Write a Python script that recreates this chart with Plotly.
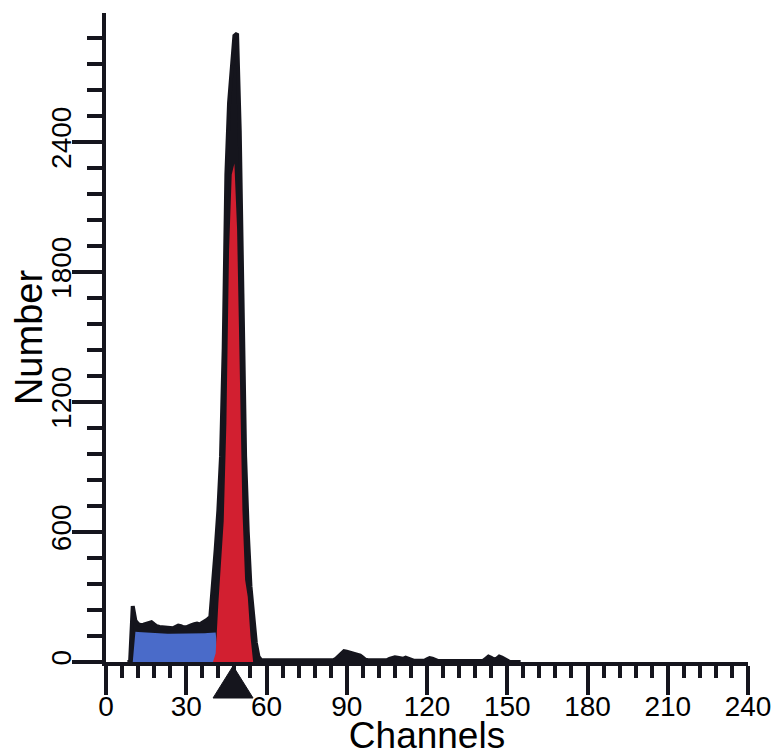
import plotly.graph_objects as go

# ---- data ----
channels = list(range(8, 156))

# total histogram (black outline / envelope)
debris_counts = [0, 0, 258, 190, 175, 170, 172, 176, 182, 184, 174, 165, 162, 160, 157, 155,
                 157, 156, 163, 168, 165, 160, 160, 163, 170, 175, 177, 173, 180, 190, 197,
                 208]                                    # ch 8..39
peak_counts = [340, 520, 700, 950, 1450, 2250, 2580, 2760, 2890, 2900, 2450, 1700, 950,
               600, 350, 220, 90, 25]                    # ch 40..57
tail_counts = [8] * 28 + [15, 25, 40, 50, 48, 45, 40, 38, 35, 30, 20, 10] + [8] * 8 + \
              [15, 20, 22, 20, 18, 15, 20, 15, 10] + [6] * 5 + [12, 18, 15, 8] + [5] * 18 + \
              [15, 25, 20, 12, 15, 25, 20, 12, 5] + [0] * 5   # ch 58..155
total_counts = debris_counts + peak_counts + tail_counts

# debris model component (blue)
debris_channels = list(range(10, 43))
debris_model = [0, 140, 138, 137, 136, 135, 134, 133, 132, 131, 131, 130, 130, 130, 130, 130,
                130, 130, 130, 131, 131, 131, 131, 132, 132, 132, 133, 133, 134, 135, 135,
                136, 0]

# G1 model component (red)
g1_channels = list(range(40, 56))
g1_model = [0, 40, 270, 450, 650, 1100, 1900, 2250, 2300, 2000, 1300, 700, 380, 300, 120, 0]

peak_marker_channel = [47.5]

x_ticks = [0, 30, 60, 90, 120, 150, 180, 210, 240]
y_ticks = [0, 600, 1200, 1800, 2400]

# ---- styling ----
FONT = "Liberation Sans, Arial, Helvetica, sans-serif"
INK = "#15151d"
BLUE = "#4a6bc9"
RED = "#d21f30"

fig = go.Figure()

fig.add_trace(go.Scatter(
    x=channels, y=total_counts, mode="lines", fill="tozeroy",
    line=dict(color=INK, width=4), fillcolor=INK, hoverinfo="skip", showlegend=False))

fig.add_trace(go.Scatter(
    x=debris_channels, y=debris_model, mode="lines", fill="tozeroy",
    line=dict(color=BLUE, width=0), fillcolor=BLUE, showlegend=False))

fig.add_trace(go.Scatter(
    x=g1_channels, y=g1_model, mode="lines", fill="tozeroy",
    line=dict(color=RED, width=0), fillcolor=RED, showlegend=False))

# peak-position marker: a triangle just under the channel axis
for ch in peak_marker_channel:
    fig.add_shape(
        type="path", xref="x", xsizemode="pixel", xanchor=ch,
        yref="paper", ysizemode="pixel", yanchor=0,
        path="M -20 -36 L 20 -36 L 0 -4 Z",
        fillcolor=INK, line=dict(color=INK, width=1), layer="above")

# page body has an 8px default margin, so the figure is made 8px smaller
fig.update_layout(
    width=771, height=748,
    margin=dict(l=98, r=31, t=5, b=94, autoexpand=False),
    paper_bgcolor="white", plot_bgcolor="white",
    font=dict(family=FONT, color="black"),
    xaxis=dict(
        range=[0, 240], tickvals=x_ticks, ticktext=[str(v) for v in x_ticks],
        ticks="outside", ticklen=29, tickwidth=3.5, tickcolor=INK,
        ticklabelstandoff=-13, ticklabeloverflow="allow",
        showline=True, linecolor=INK, linewidth=4, showgrid=False, zeroline=False,
        tickfont=dict(size=28, family=FONT, color="black"),
        minor=dict(dtick=6, tick0=0, ticks="outside", ticklen=12, tickwidth=3.5,
                   tickcolor=INK, showgrid=False),
        title=dict(text="Channels", font=dict(size=37, family=FONT, color="black"),
                   standoff=3),
        automargin=False,
    ),
    yaxis=dict(
        range=[0, 2995], tickvals=y_ticks, ticktext=[str(v) for v in y_ticks],
        ticks="outside", ticklen=30, tickwidth=3.5, tickcolor=INK, tickangle=-90,
        ticklabelstandoff=-10, ticklabeloverflow="allow",
        showline=True, linecolor=INK, linewidth=4, showgrid=False, zeroline=False,
        tickfont=dict(size=28, family=FONT, color="black"),
        minor=dict(dtick=120, tick0=0, ticks="outside", ticklen=15, tickwidth=3.5,
                   tickcolor=INK, showgrid=False),
        title=dict(text="Number", font=dict(size=38, family=FONT, color="black"),
                   standoff=2),
        automargin=False,
    ),
)

fig.write_html("out.html")
